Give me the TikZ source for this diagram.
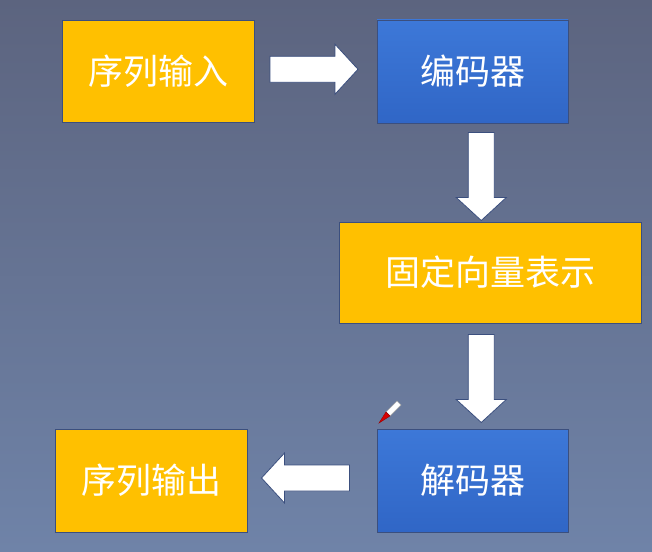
\documentclass[tikz,border=0pt]{standalone}
\usepackage{fontspec}
\newfontfamily\cjk{Noto Sans CJK SC}
\usetikzlibrary{calc}
\definecolor{bgtop}{HTML}{5C647F}
\definecolor{bgbot}{HTML}{6F83A8}
\definecolor{ybox}{HTML}{FFC000}
\definecolor{btop}{HTML}{3D78D8}
\definecolor{bbot}{HTML}{3066C6}
\definecolor{edge}{HTML}{3B4F7E}
\tikzset{
  box/.style={rectangle, inner sep=0pt, draw=edge, line width=0.8pt,
    text=white, font=\cjk\fontsize{35}{40}\selectfont},
  yellowbox/.style={box, fill=ybox},
  bluebox/.style={box, top color=btop, bottom color=bbot},
  fatarrow/.pic={
    \filldraw[fill=white, draw=edge, line width=0.8pt, line join=miter]
      (-44,-13) -- (21,-13) -- (21,-25) -- (44,0) -- (21,25) -- (21,13) -- (-44,13) -- cycle;
  }
}
\begin{document}
\begin{tikzpicture}[x=1pt,y=-1pt]
\shade[top color=bgtop, bottom color=bgbot] (0,0) rectangle (652,551);
\useasboundingbox (0,0) rectangle (652,551);

\node[yellowbox, minimum width=192pt, minimum height=102pt] (in)  at (158,71)    {序列输入};
\node[bluebox,   minimum width=191pt, minimum height=103pt] (enc) at (472.5,71.5) {编码器};
\node[yellowbox, minimum width=302pt, minimum height=101pt] (fix) at (490,272.5) {固定向量表示};
\node[bluebox,   minimum width=191pt, minimum height=103pt] (dec) at (472.5,480.5) {解码器};
\node[yellowbox, minimum width=192pt, minimum height=103pt] (out) at (151,480.5) {序列输出};

\coordinate (a1) at ($(in.east)!0.5!(enc.west)+(-1.5,-2)$);
\coordinate (a2) at ($(enc.south)!0.5!(fix.north)+(0,4)$);
\coordinate (a3) at ($(fix.south)!0.5!(dec.north)+(0,2.5)$);
\coordinate (a4) at ($(out.east)!0.5!(dec.west)+(-6.5,-2.5)$);
\pic at (a1) {fatarrow};
\pic[rotate=-90] at (a2) {fatarrow};
\pic[rotate=-90] at (a3) {fatarrow};
\pic[rotate=180] at (a4) {fatarrow};

% pencil cursor
\filldraw[fill=white, draw=gray!70, line width=0.5pt]
  (386,412) -- (397,401) -- (401,405) -- (390,416) -- cycle;
\filldraw[fill=red!85!black, draw=red!60!black, line width=0.4pt]
  (386,412) -- (390,416) -- (379,423) -- cycle;
\end{tikzpicture}
\end{document}
